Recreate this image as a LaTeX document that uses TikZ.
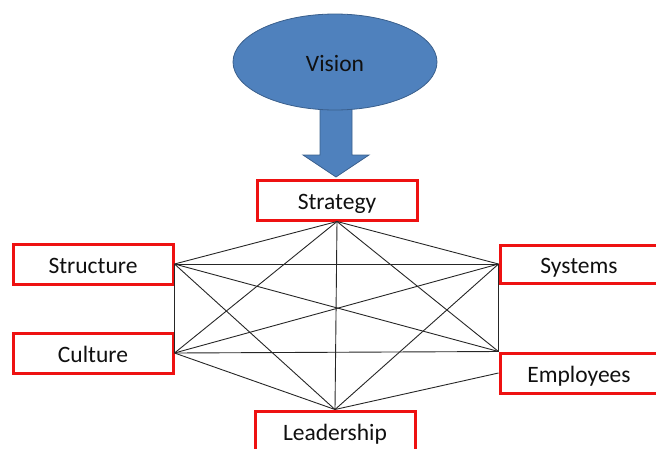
\documentclass[tikz,border=0pt]{standalone}
\usepackage{fontspec}
\setmainfont{Carlito}
\usetikzlibrary{shapes.geometric}
\definecolor{visionblue}{HTML}{4F81BD}
\definecolor{visionedge}{HTML}{3A5F8C}
\definecolor{boxred}{HTML}{EE1111}
\definecolor{txt}{HTML}{101010}
\begin{document}
\begin{tikzpicture}[x=1pt,y=-1pt,
  lbl/.style={font=\fontsize{23.5}{28}\selectfont, text=txt,
    text height=18pt, text depth=0pt},
  redbox/.style={lbl, draw=boxred, line width=3pt, fill=white,
    minimum width=160pt, minimum height=40pt, inner sep=0pt},
  link/.style={draw=black!85, line width=0.9pt}]
\useasboundingbox (0,0) rectangle (656,448);

% block arrow from the vision down to the strategy
\filldraw[fill=visionblue, draw=visionedge, line width=0.8pt]
  (320,100) -- (352,100) -- (352,155) -- (369,155) -- (336,177)
  -- (303,155) -- (320,155) -- cycle;
\node[ellipse, lbl, fill=visionblue, draw=visionedge, line width=0.8pt,
  minimum width=204pt, minimum height=96pt, inner sep=0pt] (vision) at (335,62) {Vision};

% the six elements
\node[redbox] (strategy) at (337,200) {Strategy};
\node[redbox] (structure) at (93,264) {Structure};
\node[redbox] (culture) at (93,353) {Culture};
\node[redbox, minimum width=158pt, minimum height=38pt] (systems) at (579,264) {Systems};
\node[redbox, minimum width=158pt] (employees) at (579,373) {Employees};
\node[redbox] (leadership) at (335,431) {Leadership};

% every element linked with every other
\foreach \a/\b in {
  strategy.south/structure.east, strategy.south/culture.east,
  strategy.south/systems.west, strategy.south/employees.north west,
  strategy.south/leadership.north,
  structure.east/systems.west, structure.east/culture.east,
  structure.east/employees.north west, structure.east/leadership.north,
  culture.east/systems.west, culture.east/employees.north west,
  culture.east/leadership.north,
  systems.west/employees.north west, systems.west/leadership.north,
  employees.west/leadership.north}
  \draw[link] (\a) -- (\b);
\end{tikzpicture}
\end{document}
